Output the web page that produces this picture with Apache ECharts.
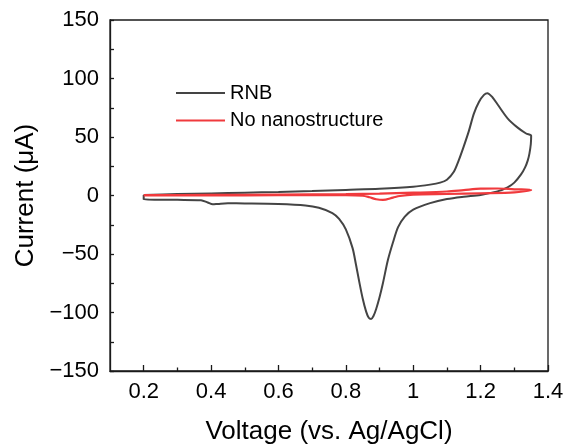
<!DOCTYPE html>
<html><head><meta charset="utf-8">
<script src="https://cdn.jsdelivr.net/npm/echarts@6/dist/echarts.min.js"></script>
<style>html,body{margin:0;padding:0;background:#fff}#c{width:568px;height:448px}</style>
</head><body><div id="c"></div>
<script>
var xMajorTicks = [0.2, 0.4, 0.6, 0.8, 1.0, 1.2, 1.4];
var xMinorTicks = [0.3, 0.5, 0.7, 0.9, 1.1, 1.3];
var yTicks = [-150, -100, -50, 0, 50, 100, 150];
var seriesNames = ['RNB', 'No nanostructure'];

var rnbV = [0.2,0.3,0.4,0.5,0.6,0.7,0.8,0.9,1.0,1.05,1.08,1.1,1.12,1.135,1.15,1.165,1.18,1.195,1.21,1.22,1.235,1.25,1.28,1.31,1.335,1.35,
  1.349,1.345,1.34,1.332,1.32,1.3,1.28,1.25,1.2,1.15,1.1,1.05,1.0,0.975,0.955,0.94,0.925,0.91,0.9,0.89,0.882,0.875,0.868,0.86,0.85,0.84,0.83,0.82,0.8,0.78,0.76,0.72,0.68,0.6,0.5,0.45,0.42,0.405,0.39,0.37,0.3,0.2,0.2];
var rnbI = [0.5,1.2,1.8,2.4,3.0,3.8,4.8,5.8,7.5,9.3,11,13.5,20,30,42,55,70,80,86,87.5,84,78,66,58,53,51,
  44,36,30,24,18,11,7,3.5,0.5,-1,-3,-6.5,-12,-18,-27,-40,-55,-75,-87,-97,-103,-105.5,-104.5,-99,-88,-74,-59,-45,-29,-20,-15,-10.5,-8.5,-7.3,-6.8,-6.7,-7.2,-7.5,-6,-4,-3.7,-3.4,0.5];

var noV = [0.2,0.4,0.6,0.8,0.9,1.0,1.1,1.15,1.2,1.25,1.3,1.35,
  1.3,1.2,1.1,1.0,0.96,0.94,0.91,0.89,0.87,0.85,0.8,0.6,0.4,0.2,0.2];
var noI = [0.3,0.5,0.8,1.2,1.6,2.4,3.4,4.6,5.8,6.0,5.3,4.8,
  2.6,1.9,1.3,0.8,-0.4,-1.8,-3.8,-3.2,-1.5,-0.2,0.3,0.2,0.1,0.0,0.3];

function pairs(xs, ys){ var out=[]; for(var i=0;i<xs.length;i++) out.push([xs[i], ys[i]]); return out; }
function fmt(v){ return String(+v.toFixed(2)).replace('-', '\u2212'); }

var ff = 'Liberation Sans, Arial, sans-serif';
var axisColor = '#1a1a1a';
var chart = echarts.init(document.getElementById('c'), null, {renderer:'canvas'});
chart.setOption({
  animation:false,
  backgroundColor:'#fff',
  grid:{left:110, right:20, top:20, bottom:77, containLabel:false, outerBoundsMode:'none', show:true, borderColor:axisColor, borderWidth:1.3, backgroundColor:'transparent'},
  legend:{
    orient:'vertical', left:176, top:83, padding:0, icon:'rect', itemWidth:49, itemHeight:2, itemGap:7.5,
    textStyle:{fontFamily:ff, fontSize:20, color:'#000', lineHeight:20},
    data:seriesNames
  },
  xAxis:[{
    type:'value', min:0.1, max:1.4, position:'bottom',
    name:'Voltage (vs. Ag/AgCl)', nameLocation:'middle', nameGap:48,
    nameTextStyle:{fontFamily:ff, fontSize:26, color:'#000'},
    axisLine:{show:true, onZero:false, lineStyle:{color:axisColor, width:1.3}},
    axisTick:{show:true, inside:true, length:6, customValues:xMajorTicks, lineStyle:{color:axisColor, width:1.3}},
    axisLabel:{show:true, customValues:xMajorTicks, formatter:fmt, margin:10, fontFamily:ff, fontSize:22, color:'#000'},
    splitLine:{show:false}
  },{
    type:'value', min:0.1, max:1.4, position:'bottom',
    axisLine:{show:false, onZero:false},
    axisTick:{show:true, inside:true, length:3.5, customValues:xMinorTicks, lineStyle:{color:axisColor, width:1.3}},
    axisLabel:{show:false},
    splitLine:{show:false}
  }],
  yAxis:{
    type:'value', min:-150, max:150, interval:50,
    name:'Current (\u03bcA)', nameLocation:'middle', nameGap:70,
    nameTextStyle:{fontFamily:ff, fontSize:26, color:'#000'},
    axisLine:{show:true, onZero:false, lineStyle:{color:axisColor, width:1.3}},
    axisTick:{show:true, inside:true, length:4, lineStyle:{color:axisColor, width:1.3}},
    minorTick:{show:true, splitNumber:2, length:4, lineStyle:{color:axisColor, width:1.3}},
    axisLabel:{formatter:fmt, margin:11, fontFamily:ff, fontSize:22, color:'#000'},
    splitLine:{show:false}
  },
  series:[
    {name:seriesNames[0], type:'line', xAxisIndex:0, data:pairs(rnbV, rnbI), symbol:'none', smooth:0.3,
     lineStyle:{color:'#444444', width:2}, itemStyle:{color:'#444444'}},
    {name:seriesNames[1], type:'line', xAxisIndex:0, data:pairs(noV, noI), symbol:'none', smooth:0.3,
     lineStyle:{color:'#f03a3d', width:2.2}, itemStyle:{color:'#f03a3d'}}
  ]
});
</script></body></html>
